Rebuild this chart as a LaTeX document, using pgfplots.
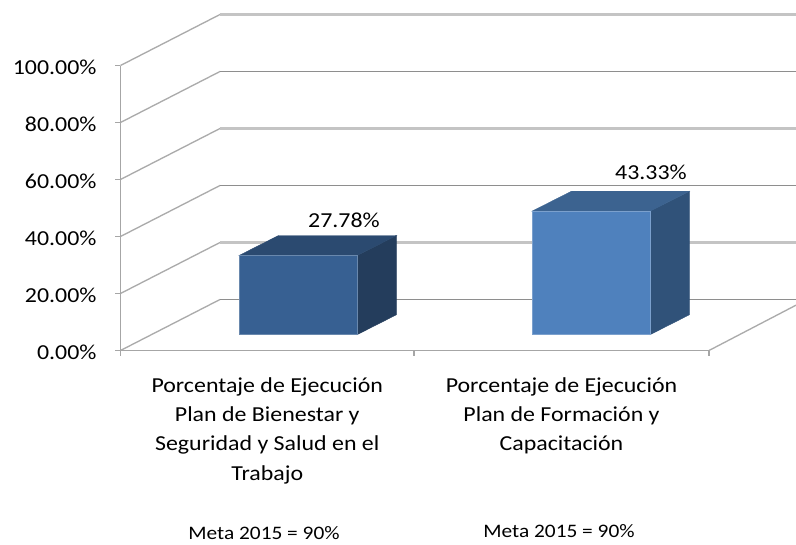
\documentclass[border=0pt]{standalone}
\usepackage{pgfplots}
\pgfplotsset{compat=1.18}
\usepackage{fontspec}
\setmainfont[FakeStretch=1.12]{Carlito}
\definecolor{gridA}{HTML}{C4C4C4}
\definecolor{gridB}{HTML}{8E8E8E}
\definecolor{diag}{HTML}{ABABAB}
\definecolor{axisc}{HTML}{A6A6A6}
\definecolor{aFront}{HTML}{376092}
\definecolor{aTop}{HTML}{2B4A70}
\definecolor{aSide}{HTML}{243D5C}
\definecolor{bFront}{HTML}{4F81BD}
\definecolor{bTop}{HTML}{3C6390}
\definecolor{bSide}{HTML}{305279}
\begin{document}
\begin{tikzpicture}[x=1pt,y=1pt]
\path[use as bounding box] (0,0) rectangle (597,408);
\begin{axis}[
  at={(90.375pt,145.125pt)}, anchor=south west,
  scale only axis, width=506.625pt, height=213.75pt,
  xmin=120.5, xmax=796, ymin=0, ymax=100,
  clip=false,
  axis line style={draw=none},
  tick align=outside, major tick length=4pt,
  tick style={axisc, line width=0.9pt},
  xtick pos=bottom, ytick pos=left,
  xtick={120.5,414,709},
  x tick label as interval,
  xticklabels={{Porcentaje de Ejecución\\Plan de Bienestar y\\Seguridad y Salud en el\\Trabajo},{Porcentaje de Ejecución\\Plan de Formación y\\Capacitación}},
  x tick label style={align=center, font=\fontsize{16}{22}\selectfont, anchor=north, yshift=-12.5pt},
  ytick={0,20,40,60,80,100},
  yticklabels={0.00\%,20.00\%,40.00\%,60.00\%,80.00\%,100.00\%},
  y tick label style={font=\fontsize{16}{20}\selectfont, anchor=east, xshift=-10.5pt, yshift=-1.5pt},
]
% back wall grid and side wall
\addplot[diag, line width=1pt] coordinates {(120.5,0) (220,17.9)};
\addplot[diag, line width=1pt] coordinates {(120.5,20) (220,37.9)};
\addplot[diag, line width=1pt] coordinates {(120.5,40) (220,57.9)};
\addplot[diag, line width=1pt] coordinates {(120.5,60) (220,77.9)};
\addplot[diag, line width=1pt] coordinates {(120.5,80) (220,97.9)};
\addplot[diag, line width=1pt] coordinates {(120.5,100) (220,117.9)};
\addplot[gridB, line width=1pt] coordinates {(220,17.9) (796,17.9)};
\addplot[gridA, line width=2.2pt] coordinates {(220,37.9) (796,37.9)};
\addplot[gridB, line width=1pt] coordinates {(220,57.9) (796,57.9)};
\addplot[gridA, line width=2.2pt] coordinates {(220,77.9) (796,77.9)};
\addplot[gridB, line width=1pt] coordinates {(220,97.9) (796,97.9)};
\addplot[gridA, line width=2.2pt] coordinates {(220,117.9) (796,117.9)};
% axes
\addplot[axisc, line width=1pt] coordinates {(120.5,0) (120.5,100)};
\addplot[axisc, line width=1.4pt] coordinates {(120.5,0) (709,0)};
\addplot[diag, line width=1pt] coordinates {(709,0) (796,15.9)};
% bar 1 (27.78)
\addplot[fill=aSide, draw=aSide, line width=0.3pt] coordinates {(357,5.54) (396.5,12.56) (396.5,40.34) (357,33.32)} --cycle;
\addplot[fill=aTop, draw=aTop, line width=0.3pt] coordinates {(239,33.32) (278.5,40.34) (396.5,40.34) (357,33.32)} --cycle;
\addplot[fill=aFront, draw=aFront!75!white, line width=0.4pt] coordinates {(239,5.54) (357,5.54) (357,33.32) (239,33.32)} --cycle;
% bar 2 (43.33)
\addplot[fill=bSide, draw=bSide, line width=0.3pt] coordinates {(650,5.54) (689.5,12.56) (689.5,55.89) (650,48.87)} --cycle;
\addplot[fill=bTop, draw=bTop, line width=0.3pt] coordinates {(532,48.87) (571.5,55.89) (689.5,55.89) (650,48.87)} --cycle;
\addplot[fill=bFront, draw=bFront!75!white, line width=0.4pt] coordinates {(532,5.54) (650,5.54) (650,48.87) (532,48.87)} --cycle;
% labels
\node[font=\fontsize{16}{20}\selectfont] at (axis cs:344,45.8) {27.78\%};
\node[font=\fontsize{16}{20}\selectfont] at (axis cs:651,62.6) {43.33\%};
\node[font=\fontsize{14.3}{16}\selectfont, inner sep=0pt] at (axis cs:264,-64.2) {Meta 2015 = 90\%};
\node[font=\fontsize{14.3}{16}\selectfont, inner sep=0pt] at (axis cs:559,-63.5) {Meta 2015 = 90\%};
\end{axis}
\end{tikzpicture}
\end{document}
